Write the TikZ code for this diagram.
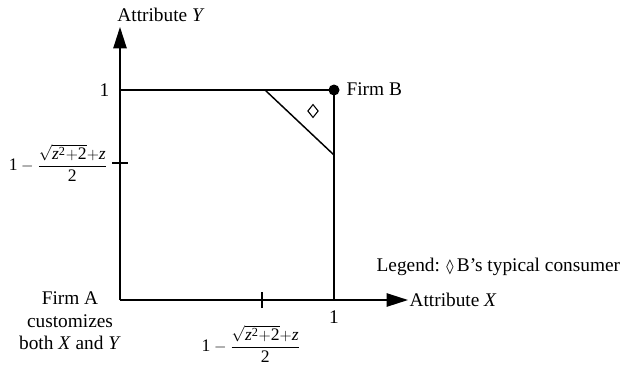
\documentclass[tikz,border=0pt]{standalone}
\usepackage{amsmath}
\usepackage{fontspec}
\setmainfont{Liberation Serif}
\usetikzlibrary{arrows.meta,shapes.geometric}
\newcommand{\fracexpr}{$\medmuskip=0mu\textrm{1}\mkern4mu-\mkern4mu\dfrac{\sqrt{\textit{z}^{\textrm{2}}+\textrm{2}}+\textit{z}}{\textrm{2}}$}
\begin{document}
\begin{tikzpicture}[x=0.75pt,y=-0.75pt,
  ln/.style={line width=1.1pt},
  axis/.style={ln,-{Triangle[length=16pt,width=10pt]}},
  lbl/.style={inner sep=1pt,font=\fontsize{14.5}{16.8}\selectfont},
  flbl/.style={inner sep=1pt,font=\fontsize{13.2}{15}\selectfont}]
\useasboundingbox (0,0) rectangle (624,368);
\coordinate (O) at (120,300);
\coordinate (Ytip) at (120,27);
\coordinate (Xtip) at (408,300);
\coordinate (TL) at (120,90);
\coordinate (TR) at (334,90);
\coordinate (BR) at (334,300);
\coordinate (T1) at (265,90);
\coordinate (T2) at (334,155);
\coordinate (YT) at (120,163);
\coordinate (XT) at (262,300);
\draw[axis] (O) -- (Ytip);
\draw[axis] (O) -- (Xtip);
\draw[ln] (TL) -- (TR) -- (BR);
\draw[ln] (T1) -- (T2);
\draw[ln] ([xshift=-6]YT) -- ([xshift=6]YT);
\draw[ln] ([yshift=-6]XT) -- ([yshift=6]XT);
\fill (TR) circle (5.5);
\node[draw,diamond,inner sep=0pt,minimum width=8,minimum height=10,line width=0.8pt] (dia) at (313,111) {};
\node[lbl] (ylab) at (161,15) {Attribute \textit{Y}};
\node[lbl,anchor=east] (y1) at (111,90) {1};
\node[flbl,anchor=east] (yfrac) at (109,163) {\fracexpr};
\node[lbl,anchor=west] (firmb) at (345,89) {Firm B};
\node[lbl,anchor=west] (leg) at (375,267) {Legend: {\fontspec{DejaVu Sans}\fontsize{11}{13}\selectfont ◊}\,B’s typical consumer};
\node[lbl,align=center] (firma) at (70,321) {Firm A\\customizes\\both \textit{X} and \textit{Y}};
\node[lbl] (x1) at (334,317) {1};
\node[flbl] (xfrac) at (251,344) {\fracexpr};
\node[lbl,anchor=west] (xlab) at (408,300) {Attribute \textit{X}};
\end{tikzpicture}
\end{document}
